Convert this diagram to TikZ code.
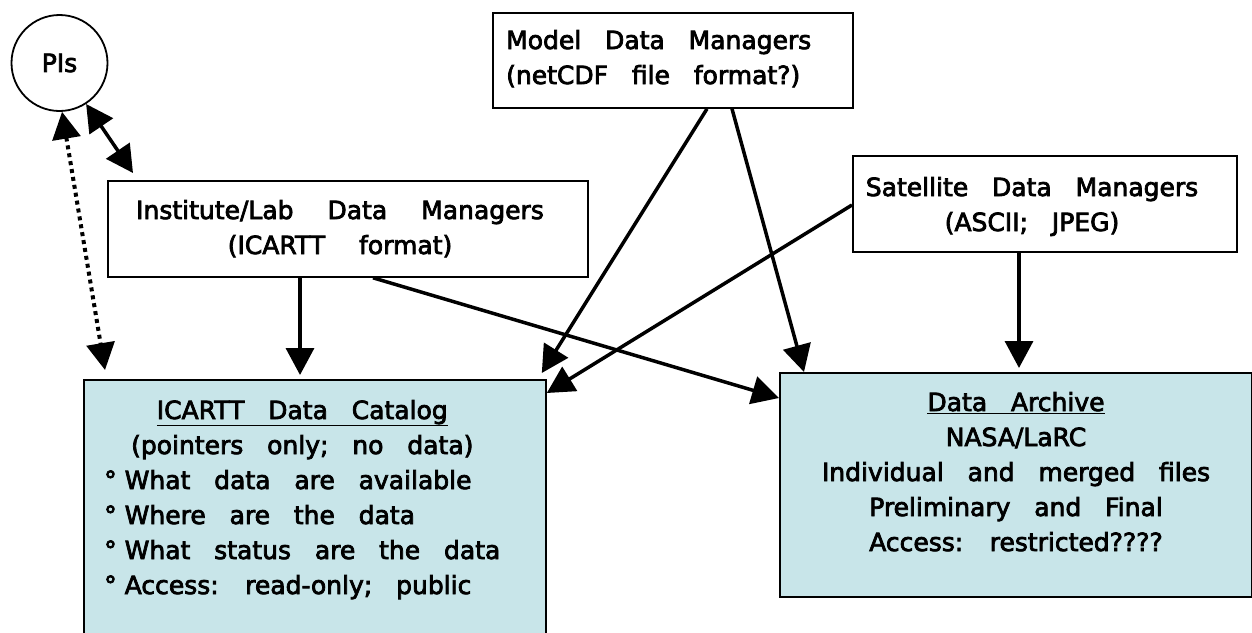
\documentclass[tikz,border=0pt]{standalone}
\usepackage{fontspec}
\setmainfont{DejaVu Sans}[WordSpace=3,FakeBold=3]
\usetikzlibrary{arrows.meta,calc}
\definecolor{boxfill}{RGB}{200,229,233}
\newcommand{\bul}{°\hspace{8pt}}
\begin{document}
\begin{tikzpicture}[x=1pt,y=-1pt,
  txt/.style={font=\fontsize{25}{35}\selectfont, inner sep=0pt},
  box/.style={draw, line width=1.8pt, anchor=north west, inner sep=0pt},
  bluebox/.style={box, fill=boxfill},
  arr/.style={line width=3.5pt, -{Triangle[length=27pt,width=28pt]}},
  dblarr/.style={line width=3.5pt, {Triangle[length=27pt,width=28pt]}-{Triangle[length=27pt,width=28pt]}},
  dotarr/.style={line width=4pt, dash pattern=on 4pt off 4pt, {Triangle[length=27pt,width=28pt]}-{Triangle[length=27pt,width=28pt]}}
]
\useasboundingbox (0,0) rectangle (1252,632);
% boxes
\node[draw, circle, line width=1.8pt, minimum size=96pt, inner sep=0pt, txt] (pis) at (59.5,63) {PIs};
\node[box, minimum width=360pt, minimum height=95pt] (model) at (492,12) {};
\node[box, minimum width=384pt, minimum height=96pt] (sat) at (852,155) {};
\node[box, minimum width=480pt, minimum height=96pt] (inst) at (107,180) {};
\node[bluebox, minimum width=462pt, minimum height=290pt] (cat) at (83,379) {};
\node[bluebox, minimum width=472pt, minimum height=224pt] (arch) at (779,372) {};
% texts
\node[txt, anchor=base west] (modelt) at (506,49) {\begin{tabular}[t]{@{}l@{}}Model Data Managers\\(netCDF file format?)\end{tabular}};
\node[txt, anchor=base] (satt) at (1032,196) {\begin{tabular}[t]{@{}c@{}}Satellite Data Managers\\(ASCII; JPEG)\end{tabular}};
\node[txt, anchor=base] (instt) at (340,219) {\spaceskip=34pt\relax\begin{tabular}[t]{@{}c@{}}Institute/Lab Data Managers\\(ICARTT format)\end{tabular}};
\node[txt, anchor=base west] (catt) at (104,419) {\begin{tabular}[t]{@{}l@{}}\multicolumn{1}{c}{\underline{ICARTT Data Catalog}}\\\multicolumn{1}{c}{(pointers only; no data)}\\
\bul What data are available\\
\bul Where are the data\\
\bul What status are the data\\
\bul Access: read-only; public\end{tabular}};
\node[txt, anchor=base] (archt) at (1016,411) {\begin{tabular}[t]{@{}c@{}}\underline{Data Archive}\\NASA/LaRC\\Individual and merged files\\Preliminary and Final\\Access: restricted????\end{tabular}};
% connectors
\draw[dblarr] (pis.-57.5) -- ([xshift=26pt,yshift=7pt]inst.north west);
\draw[dotarr] (pis.-87) -- ([xshift=22pt,yshift=9pt]cat.north west);
\draw[arr] ([xshift=193pt]inst.south west) -- ([xshift=217pt,yshift=4pt]cat.north west);
\draw[arr] ([xshift=266pt]inst.south west) -- ([yshift=-26pt]arch.north west);
\draw[arr] ([xshift=215pt]model.south west) -- ([xshift=-5pt,yshift=6pt]cat.north east);
\draw[arr] ([xshift=240pt]model.south west) -- ([xshift=25pt]arch.north west);
\draw[arr] ([yshift=-50pt]sat.north west) -- ([yshift=-14pt]cat.north east);
\draw[arr] ([xshift=167pt]sat.south west) -- ([xshift=240pt,yshift=4pt]arch.north west);
\end{tikzpicture}
\end{document}
